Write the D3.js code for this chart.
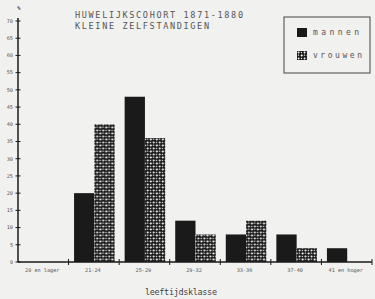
<!DOCTYPE html>
<html>
<head>
<meta charset="utf-8">
<script src="https://cdn.jsdelivr.net/npm/d3@7"></script>
<style>
  html, body { margin: 0; padding: 0; background: #f1f1f0; }
  svg { display: block; }
</style>
</head>
<body>
<div id="chart"></div>
<script>
// age classes (x categories)
var categories = ['20 en lager', '21-24', '25-29', '29-32', '33-36', '37-40', '41 en hoger'];
// percentages per series
var mannen = [0, 20, 48, 12, 8, 8, 4];
var vrouwen = [0, 40, 36, 8, 12, 4, 0];
var seriesNames = ['mannen', 'vrouwen'];
var yTicks = [0, 5, 10, 15, 20, 25, 30, 35, 40, 45, 50, 55, 60, 65, 70];
var titleLines = ['HUWELIJKSCOHORT 1871-1880', 'KLEINE ZELFSTANDIGEN'];

var width = 375, height = 299;
var ink = '#1a1a1a', textCol = '#555';
var font = '"DejaVu Sans Mono", monospace';

var svg = d3.select('#chart').append('svg')
    .attr('width', width)
    .attr('height', height);

svg.append('rect').attr('width', width).attr('height', height).attr('fill', '#f1f1f0');

// pebble-like fill for vrouwen
var defs = svg.append('defs');
var pat = defs.append('pattern')
    .attr('id', 'pebble')
    .attr('patternUnits', 'userSpaceOnUse')
    .attr('width', 6).attr('height', 6);
pat.append('rect').attr('width', 6).attr('height', 6).attr('fill', ink);
pat.append('rect').attr('x', 0.6).attr('y', 0.6).attr('width', 2.2).attr('height', 1.8).attr('rx', 0.8).attr('fill', '#f4f4f4');
pat.append('rect').attr('x', 3.6).attr('y', 3.4).attr('width', 2).attr('height', 2).attr('rx', 0.8).attr('fill', '#f4f4f4');
pat.append('rect').attr('x', 3.8).attr('y', 0.4).attr('width', 1.4).attr('height', 1.4).attr('rx', 0.6).attr('fill', '#e8e8e8');
pat.append('rect').attr('x', 0.8).attr('y', 3.8).attr('width', 1.3).attr('height', 1.4).attr('rx', 0.6).attr('fill', '#e8e8e8');

var x = d3.scaleBand()
    .domain(categories)
    .range([18, 372])
    .paddingInner(0).paddingOuter(0);

var xs = d3.scaleBand()
    .domain(seriesNames)
    .range([5.5, x.bandwidth() - 4.5]);

var y = d3.scaleLinear()
    .domain([0, 70])
    .range([262, 21]);

var fills = { mannen: ink, vrouwen: 'url(#pebble)' };
var data = categories.map(function(c, i) {
    return { cat: c, values: [
        { key: 'mannen', v: mannen[i] },
        { key: 'vrouwen', v: vrouwen[i] }
    ] };
});

// bars
var groups = svg.selectAll('.grp')
    .data(data)
    .enter().append('g')
    .attr('class', 'grp')
    .attr('transform', function(d) { return 'translate(' + x(d.cat) + ',0)'; });

groups.selectAll('rect')
    .data(function(d) { return d.values.filter(function(e) { return e.v > 0; }); })
    .enter().append('rect')
    .attr('x', function(d) { return xs(d.key); })
    .attr('width', xs.bandwidth())
    .attr('y', function(d) { return y(d.v); })
    .attr('height', function(d) { return y(0) - y(d.v); })
    .attr('fill', function(d) { return fills[d.key]; });

// y axis
svg.append('line')
    .attr('x1', x.range()[0]).attr('x2', x.range()[0])
    .attr('y1', y(0)).attr('y2', y(70) - 3)
    .attr('stroke', ink).attr('stroke-width', 1.5);

var yt = svg.selectAll('.ytick')
    .data(yTicks)
    .enter().append('g')
    .attr('class', 'ytick')
    .attr('transform', function(d) { return 'translate(' + x.range()[0] + ',' + y(d) + ')'; });
yt.append('line').attr('x1', -2.5).attr('x2', 2.5).attr('stroke', ink).attr('stroke-width', 1);
yt.append('text')
    .attr('x', -5).attr('dy', '0.35em')
    .attr('text-anchor', 'end')
    .attr('font-family', font).attr('font-size', 5.2)
    .attr('fill', textCol)
    .text(function(d) { return d; });

svg.append('text')
    .attr('x', 19).attr('y', 10)
    .attr('text-anchor', 'middle')
    .attr('font-family', font).attr('font-size', 5.5)
    .attr('fill', ink)
    .text('%');

// x axis
svg.append('line')
    .attr('x1', x.range()[0]).attr('x2', x.range()[1])
    .attr('y1', y(0)).attr('y2', y(0))
    .attr('stroke', ink).attr('stroke-width', 1.5);

var bounds = categories.slice(1).map(function(c) { return x(c); }).concat([x.range()[1]]);
svg.selectAll('.xtick')
    .data(bounds)
    .enter().append('line')
    .attr('class', 'xtick')
    .attr('x1', function(d) { return d; }).attr('x2', function(d) { return d; })
    .attr('y1', y(0) - 3).attr('y2', y(0) + 3)
    .attr('stroke', ink).attr('stroke-width', 1);

svg.selectAll('.xlab')
    .data(categories)
    .enter().append('text')
    .attr('class', 'xlab')
    .attr('x', function(d) { return x(d) + x.bandwidth() / 2 - 1; })
    .attr('y', 272)
    .attr('text-anchor', 'middle')
    .attr('font-family', font).attr('font-size', 5.2)
    .attr('fill', textCol)
    .text(function(d) { return d; });

svg.append('text')
    .attr('x', 145).attr('y', 295)
    .attr('font-family', font).attr('font-size', 8.5)
    .attr('textLength', 72).attr('lengthAdjust', 'spacing')
    .attr('fill', '#444')
    .text('leeftijdsklasse');

// title
svg.selectAll('.title')
    .data(titleLines)
    .enter().append('text')
    .attr('class', 'title')
    .attr('x', 75)
    .attr('y', function(d, i) { return 18 + i * 11; })
    .attr('font-family', font).attr('font-size', 8.5)
    .attr('textLength', function(d, i) { return i === 0 ? 168 : 134; })
    .attr('lengthAdjust', 'spacing')
    .attr('fill', textCol)
    .text(function(d) { return d; });

// legend
var lg = svg.append('g');
lg.append('rect')
    .attr('x', 284).attr('y', 17)
    .attr('width', 86).attr('height', 56)
    .attr('fill', 'none').attr('stroke', '#444').attr('stroke-width', 1);

seriesNames.forEach(function(name, i) {
    var yy = 28 + i * 23;
    lg.append('rect')
        .attr('x', 297).attr('y', yy)
        .attr('width', 10).attr('height', 9)
        .attr('fill', fills[name]);
    lg.append('text')
        .attr('x', 313).attr('y', yy + 7)
        .attr('font-family', font).attr('font-size', 8)
        .attr('textLength', i === 0 ? 46 : 49).attr('lengthAdjust', 'spacing')
        .attr('fill', textCol)
        .text(name);
});
</script>
</body>
</html>
